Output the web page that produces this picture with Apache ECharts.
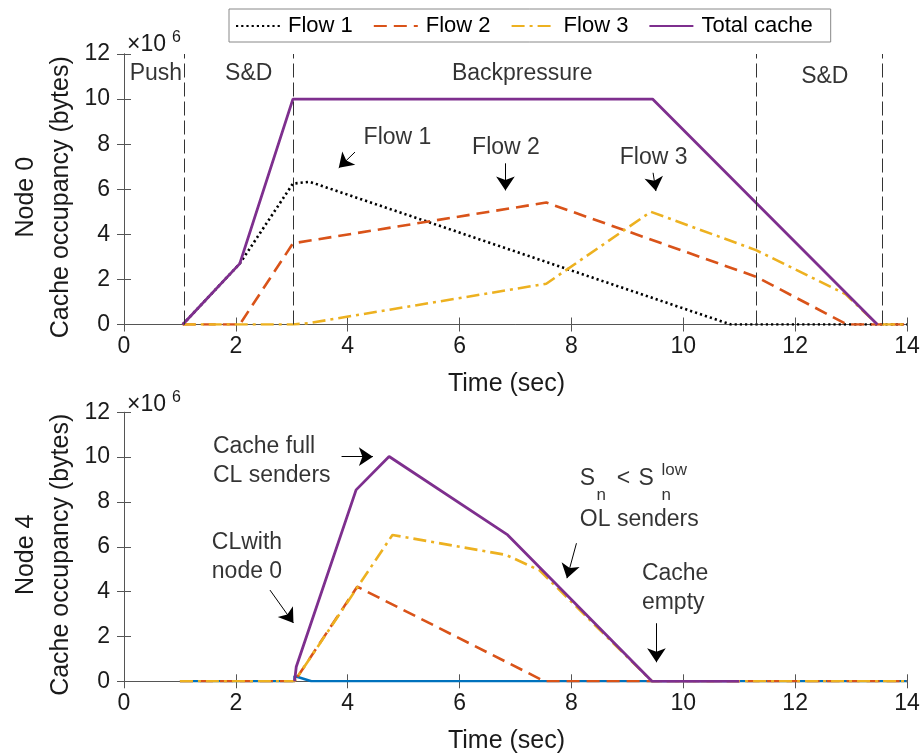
<!DOCTYPE html>
<html><head><meta charset="utf-8">
<script src="https://cdn.jsdelivr.net/npm/echarts@6/dist/echarts.min.js"></script>
<style>html,body{margin:0;padding:0;background:#fff}#c{width:921px;height:756px}</style>
</head><body><div id="c"></div>
<script>
// ---------- data ----------
const legendNames = ['Flow 1', 'Flow 2', 'Flow 3', 'Total cache'];
const xTickLabels = ['0', '2', '4', '6', '8', '10', '12', '14'];
const yTickLabels = ['0', '2', '4', '6', '8', '10', '12'];

// Node 0 (values in 1e6 bytes vs time in sec)
const n0Flow1T = [1.05, 2.07, 3.02, 3.32, 10.85, 14];
const n0Flow1V = [0, 2.7, 6.25, 6.33, 0, 0];
const n0Flow2T = [1.05, 2.07, 3.02, 7.55, 11.3, 12.93, 14];
const n0Flow2V = [0, 0, 3.6, 5.41, 2.12, 0, 0];
const n0Flow3T = [1.05, 3.02, 3.3, 7.55, 9.42, 11.3, 12.9, 13.47, 14];
const n0Flow3V = [0, 0, 0.06, 1.81, 5.0, 3.3, 1.35, 0, 0];
const n0TotalT = [1.05, 2.07, 3.02, 9.45, 13.47];
const n0TotalV = [0, 2.7, 10, 10, 0];
const n0PhaseBounds = [1.07, 3.02, 11.3, 13.55];

// Node 4
const n4Flow1T = [1.0, 3.05, 3.05, 3.35, 14];
const n4Flow1V = [0, 0, 0.24, 0, 0];
const n4Flow2T = [1.0, 3.05, 4.17, 7.52, 14];
const n4Flow2V = [0, 0, 4.22, 0, 0];
const n4Flow3T = [1.0, 3.05, 4.8, 6.83, 7.43, 9.44, 14];
const n4Flow3V = [0, 0, 6.53, 5.64, 4.95, 0, 0];
const n4TotalT = [3.05, 3.08, 4.15, 4.74, 6.86, 9.44, 11.0];
const n4TotalV = [0, 0.65, 8.54, 10.03, 6.53, 0, 0];

// annotations (data coordinates)
const n0Notes = [
  {text: 'Push', x: 0.57, y: 11.14, anchor: 'center', kind: 'main'},
  {text: 'S&D', x: 2.23, y: 11.14, anchor: 'center', kind: 'main'},
  {text: 'Backpressure', x: 7.12, y: 11.11, anchor: 'center', kind: 'main'},
  {text: 'S&D', x: 12.53, y: 11.0, anchor: 'center', kind: 'main'},
  {text: 'Flow 1', x: 4.89, y: 8.30, anchor: 'center', kind: 'main'},
  {text: 'Flow 2', x: 6.83, y: 7.85, anchor: 'center', kind: 'main'},
  {text: 'Flow 3', x: 9.47, y: 7.41, anchor: 'center', kind: 'main'}
];
const n0Arrows = [
  [[4.13, 7.65], [3.84, 6.95]],
  [[6.82, 7.15], [6.82, 5.95]],
  [[9.46, 6.73], [9.51, 5.92]]
];
const n4Notes = [
  {text: 'Cache full\nCL senders', x: 1.59, y: 9.82, anchor: 'left', kind: 'main'},
  {text: 'CLwith\nnode 0', x: 1.57, y: 5.56, anchor: 'left', kind: 'main'},
  {text: 'S', x: 8.15, y: 9.03, anchor: 'left', kind: 'main'},
  {text: 'n', x: 8.45, y: 8.31, anchor: 'left', kind: 'script'},
  {text: '<', x: 8.81, y: 9.03, anchor: 'left', kind: 'main'},
  {text: 'S', x: 9.20, y: 9.03, anchor: 'left', kind: 'main'},
  {text: 'low', x: 9.61, y: 9.43, anchor: 'left', kind: 'script'},
  {text: 'n', x: 9.61, y: 8.31, anchor: 'left', kind: 'script'},
  {text: 'OL senders', x: 8.15, y: 7.20, anchor: 'left', kind: 'main'},
  {text: 'Cache\nempty', x: 9.26, y: 4.15, anchor: 'left', kind: 'main'}
];
const n4Arrows = [
  [[3.89, 10.02], [4.45, 10.02]],
  [[2.61, 4.07], [3.03, 2.6]],
  [[8.09, 6.16], [7.92, 4.6]],
  [[9.52, 2.59], [9.52, 0.85]]
];

// ---------- styling ----------
const FONT = '"Liberation Sans", Arial, Helvetica, sans-serif';
const AXIS_COLOR = '#555';
const TEXT_COLOR = '#1a1a1a';
const lineStyles = {
  'Flow 1': {color: '#000000', width: 2.6, type: [2.2, 3.0]},
  'Flow 2': {color: '#D95319', width: 2.6, type: [13, 7]},
  'Flow 3': {color: '#EDB120', width: 2.6, type: [13, 5, 3, 5]},
  'Total cache': {color: '#7E2F8E', width: 2.8, type: 'solid'},
  'Blue': {color: '#0072BD', width: 2.6, type: 'solid'}
};

const zip = (t, v) => t.map((x, i) => [x, v[i]]);

const grids = [
  {left: 124, top: 54, width: 783, height: 270.5, outerBoundsMode: 'none'},
  {left: 124, top: 412.3, width: 783, height: 269, outerBoundsMode: 'none'}
];

function xAxes(gi) {
  const base = {
    gridIndex: gi, type: 'value', min: 0, max: 14, interval: 2,
    axisLine: {show: true, lineStyle: {color: AXIS_COLOR, width: 1}},
    axisTick: {show: true, inside: true, length: 7, lineStyle: {color: AXIS_COLOR}},
    splitLine: {show: false}
  };
  return [
    Object.assign({}, base, {
      position: 'bottom',
      axisLabel: {show: true, margin: 11, fontSize: 23, color: TEXT_COLOR, fontFamily: FONT,
        formatter: (v) => xTickLabels[Math.round(v / 2)]},
      name: 'Time (sec)', nameLocation: 'middle', nameGap: 47,
      nameTextStyle: {fontSize: 25, color: TEXT_COLOR, fontFamily: FONT, padding: [0, 18, 0, 0]}
    }),
    Object.assign({}, base, {position: 'top', axisLabel: {show: false}})
  ];
}

function yAxes(gi, nodeName) {
  const base = {
    gridIndex: gi, type: 'value', min: 0, max: 12, interval: 2,
    axisLine: {show: true, lineStyle: {color: AXIS_COLOR, width: 1}},
    axisTick: {show: true, inside: true, length: 7, lineStyle: {color: AXIS_COLOR}},
    splitLine: {show: false}
  };
  return [
    Object.assign({}, base, {
      position: 'left',
      axisLabel: {show: true, margin: 14, fontSize: 23, color: TEXT_COLOR, fontFamily: FONT,
        formatter: (v) => yTickLabels[Math.round(v / 2)]},
      name: nodeName + '\nCache occupancy (bytes)',
      nameLocation: 'middle', nameRotate: 90, nameGap: 45, nameMoveOverlap: false,
      nameTextStyle: {fontSize: 25, lineHeight: 35, color: TEXT_COLOR, fontFamily: FONT, padding: [0, 16, 0, 0]}
    }),
    Object.assign({}, base, {position: 'right', axisLabel: {show: false}})
  ];
}

// the "x10^6" exponent labels as extra invisible axes names
function expAxis(gi, gap) {
  return {
    gridIndex: gi, type: 'value', min: 0, max: 12, position: 'left',
    axisLine: {show: false}, axisTick: {show: false}, axisLabel: {show: false}, splitLine: {show: false},
    name: '{a|×10}{b|6}', nameLocation: 'end', nameGap: gap, nameMoveOverlap: false,
    nameTextStyle: {align: 'left', verticalAlign: 'bottom', color: TEXT_COLOR, fontFamily: FONT,
      padding: [0, 0, 0, 3],
      rich: {a: {fontSize: 23, lineHeight: 30, fontFamily: FONT, color: TEXT_COLOR},
             b: {fontSize: 16, lineHeight: 30, verticalAlign: 'top', padding: [0, 0, 0, 6], fontFamily: FONT, color: TEXT_COLOR}}}
  };
}

function flowSeries(name, data, xi, yi, styleKey, legendName) {
  const ls = lineStyles[styleKey];
  return {
    name: legendName, type: 'line', xAxisIndex: xi, yAxisIndex: yi, data: data,
    symbol: 'none', showSymbol: false, silent: true, animation: false,
    lineStyle: {color: ls.color, width: ls.width, type: ls.type, cap: 'butt'},
    itemStyle: {color: ls.color}
  };
}

function noteSeries(notes, arrows, xi, yi) {
  return {
    type: 'scatter', xAxisIndex: xi, yAxisIndex: yi, symbolSize: 0, silent: true, animation: false,
    z: 10,
    data: notes.map(n => ({
      value: [n.x, n.y],
      label: {
        show: true, position: 'inside', formatter: n.text, align: n.anchor, verticalAlign: 'middle',
        fontSize: n.kind === 'main' ? 23 : 17, lineHeight: n.kind === 'main' ? 29 : 18,
        color: '#000', fontFamily: FONT
      }
    })),
    markLine: {
      silent: true, animation: false, symbol: ['none', 'arrow'], symbolSize: 14,
      label: {show: false},
      lineStyle: {color: '#000', width: 1, type: 'solid'},
      data: arrows.map(a => [{coord: a[0]}, {coord: a[1]}])
    }
  };
}

function phaseSeries(bounds, xi, yi) {
  return {
    type: 'scatter', xAxisIndex: xi, yAxisIndex: yi, data: [], silent: true, animation: false,
    markLine: {
      silent: true, animation: false, symbol: 'none', label: {show: false},
      lineStyle: {color: '#333', width: 1, type: [14, 5]},
      data: bounds.map(v => ({xAxis: v}))
    }
  };
}

const option = {
  backgroundColor: '#fff',
  animation: false,
  textStyle: {fontFamily: FONT},
  legend: {
    data: legendNames, left: 229, top: 9, orient: 'horizontal',
    padding: [6, 18, 5, 6], itemGap: 20, itemWidth: 44, itemHeight: 14,
    backgroundColor: '#fff', borderColor: '#888', borderWidth: 1,
    itemStyle: {color: 'rgba(0,0,0,0)', borderWidth: 0, opacity: 0},
    textStyle: {fontSize: 22, color: '#000', fontFamily: FONT, padding: [0, 0, 0, 3]},
    selectedMode: false
  },
  grid: grids,
  xAxis: [...xAxes(0), ...xAxes(1)],
  yAxis: [...yAxes(0, 'Node 0'), ...yAxes(1, 'Node 4'), expAxis(0, -6), expAxis(1, -7)],
  series: [
    phaseSeries(n0PhaseBounds, 0, 0),
    flowSeries('n0f1', zip(n0Flow1T, n0Flow1V), 0, 0, 'Flow 1', 'Flow 1'),
    flowSeries('n0f2', zip(n0Flow2T, n0Flow2V), 0, 0, 'Flow 2', 'Flow 2'),
    flowSeries('n0f3', zip(n0Flow3T, n0Flow3V), 0, 0, 'Flow 3', 'Flow 3'),
    flowSeries('n0t', zip(n0TotalT, n0TotalV), 0, 0, 'Total cache', 'Total cache'),
    noteSeries(n0Notes, n0Arrows, 0, 0),
    flowSeries('n4f1', zip(n4Flow1T, n4Flow1V), 2, 2, 'Blue', 'Node 4 flow 1'),
    flowSeries('n4f2', zip(n4Flow2T, n4Flow2V), 2, 2, 'Flow 2', 'Node 4 flow 2'),
    flowSeries('n4f3', zip(n4Flow3T, n4Flow3V), 2, 2, 'Flow 3', 'Node 4 flow 3'),
    flowSeries('n4t', zip(n4TotalT, n4TotalV), 2, 2, 'Total cache', 'Node 4 total'),
    noteSeries(n4Notes, n4Arrows, 2, 2)
  ]
};

const chart = echarts.init(document.getElementById('c'), null, {renderer: 'canvas'});
chart.setOption(option);
</script>
</body></html>
